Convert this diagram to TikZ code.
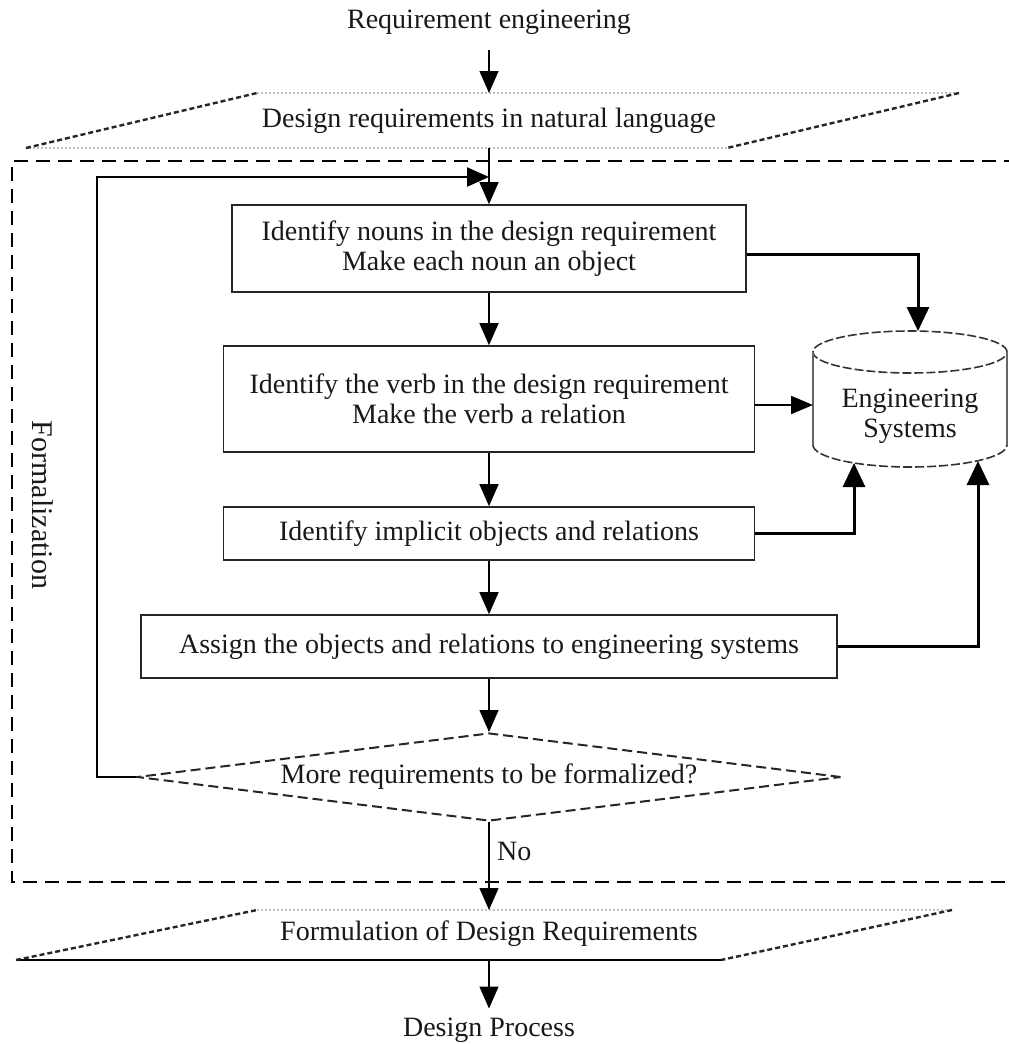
\documentclass[tikz,border=0pt]{standalone}
\usepackage{fontspec}
\setmainfont{Liberation Serif}
\usetikzlibrary{arrows.meta,shapes.geometric,calc}

\begin{document}
\begin{tikzpicture}[x=1pt,y=-1pt,
  every node/.style={font=\fontsize{28}{30}\selectfont, inner sep=0pt, text=black!90},
  stepbox/.style={draw=black!85, line width=1.6pt, align=center},
  flow/.style={draw=black, line width=1.3pt, -{Triangle[length=22pt,width=19pt]}},
  feed/.style={draw=black, line width=3pt, -{Triangle[length=24pt,width=22pt]}},
  thinfeed/.style={draw=black, line width=2pt, -{Triangle[length=22pt,width=18pt]}},
  slant/.style={draw=black!85, line width=2.4pt, dash pattern=on 5pt off 3pt},
  faint/.style={draw=black!25, line width=1.2pt, dash pattern=on 2pt off 2pt},
  frame/.style={draw=black, line width=2.8pt, dash pattern=on 14pt off 8pt},
  decision/.style={diamond, aspect=8, draw=black!85, line width=2pt, dash pattern=on 10pt off 5pt,
    minimum width=704pt, minimum height=88pt},
  cylcurve/.style={draw=black!80, line width=1.6pt, dash pattern=on 9pt off 3pt},
  cylside/.style={draw=black!60, line width=1.4pt},
]
\clip (0,0) rectangle (1009,1044);
\fill[white] (0,0) rectangle (1009,1044);

% input and output data
\node (title) at (489,22) {Requirement engineering};

\coordinate (p1tl) at (257,93);
\coordinate (p1tr) at (959,93);
\coordinate (p1br) at (727,148);
\coordinate (p1bl) at (26,148);
\draw[faint] (p1tl) -- (p1tr);
\draw[slant] (p1tr) -- (p1br);
\draw[faint] (p1br) -- (p1bl);
\draw[slant] (p1bl) -- (p1tl);
\node (req) at (489,121) {Design requirements in natural language};

\coordinate (p2tl) at (257,910);
\coordinate (p2tr) at (952,910);
\coordinate (p2br) at (721,960);
\coordinate (p2bl) at (16,960);
\draw[faint] (p2tl) -- (p2tr);
\draw[slant] (p2tr) -- (p2br);
\draw[draw=black, line width=2pt] (p2br) -- (p2bl);
\draw[slant] (p2bl) -- (p2tl);
\node (form) at (489,934) {Formulation of Design Requirements};

\node (dp) at (489,1030) {Design Process};

% formalization frame
\draw[frame] (1040,161) -- (12,161) -- (12,882) -- (1040,882);
\node[rotate=-90, font=\fontsize{30}{32}\selectfont] (lbl) at (43,505) {Formalization};

% steps
\node[stepbox, minimum width=514pt, minimum height=87pt] (box1) at (489,248.5)
  {Identify nouns in the design requirement\\Make each noun an object};
\node[stepbox, minimum width=531pt, minimum height=106pt] (box2) at (489,399)
  {Identify the verb in the design requirement\\Make the verb a relation};
\node[stepbox, minimum width=531pt, minimum height=53pt] (box3) at (489,533.5)
  {Identify implicit objects and relations};
\node[stepbox, minimum width=696pt, minimum height=63pt] (box4) at (489,646.5)
  {Assign the objects and relations to engineering systems};
\node[decision] (dec) at (489,777) {More requirements to be formalized?};

% engineering systems store
\draw[cylcurve] (910,352) ellipse [x radius=97pt, y radius=21pt];
\draw[cylside] (813,352) -- (813,445);
\draw[cylside] (1007,352) -- (1007,445);
\draw[cylcurve] (813,445) arc[start angle=180, end angle=360, x radius=97pt, y radius=22pt];
\node[align=center] (es) at (910,416) {Engineering\\Systems};
\coordinate (esTop) at (918,331);
\coordinate (esLeft) at (813,405);
\coordinate (esB1) at (854,463);
\coordinate (esB2) at (978,461);

% main flow
\draw[flow, shorten <=16pt] (title.south) -- (title.south |- p1tl);
\draw[flow] (req.south |- p1bl) -- (box1.north);
\draw[flow] (box1) -- (box2);
\draw[flow] (box2) -- (box3);
\draw[flow] (box3) -- (box4);
\draw[flow] (box4) -- (dec);
\draw[flow] (dec.south) -- (dec.south |- p2tl);
\node[anchor=west] (no) at (497,851) {No};
\draw[flow, shorten >=9pt] (form.south |- p2bl) -- (dp.north);

% loop back for the next requirement
\coordinate (loop) at (97,177);
\draw[draw=black, line width=2.4pt, -{Triangle[length=22pt,width=19pt]}]
  (dec.west) -| (loop) -- (loop -| box1.north);

% links to the store
\draw[feed] ([yshift=-6pt]box1.east) -| (esTop);
\draw[thinfeed] ([yshift=-6pt]box2.east) -- (esLeft);
\draw[feed] (box3.east) -| (esB1);
\draw[feed] (box4.east) -| (esB2);
\end{tikzpicture}
\end{document}
